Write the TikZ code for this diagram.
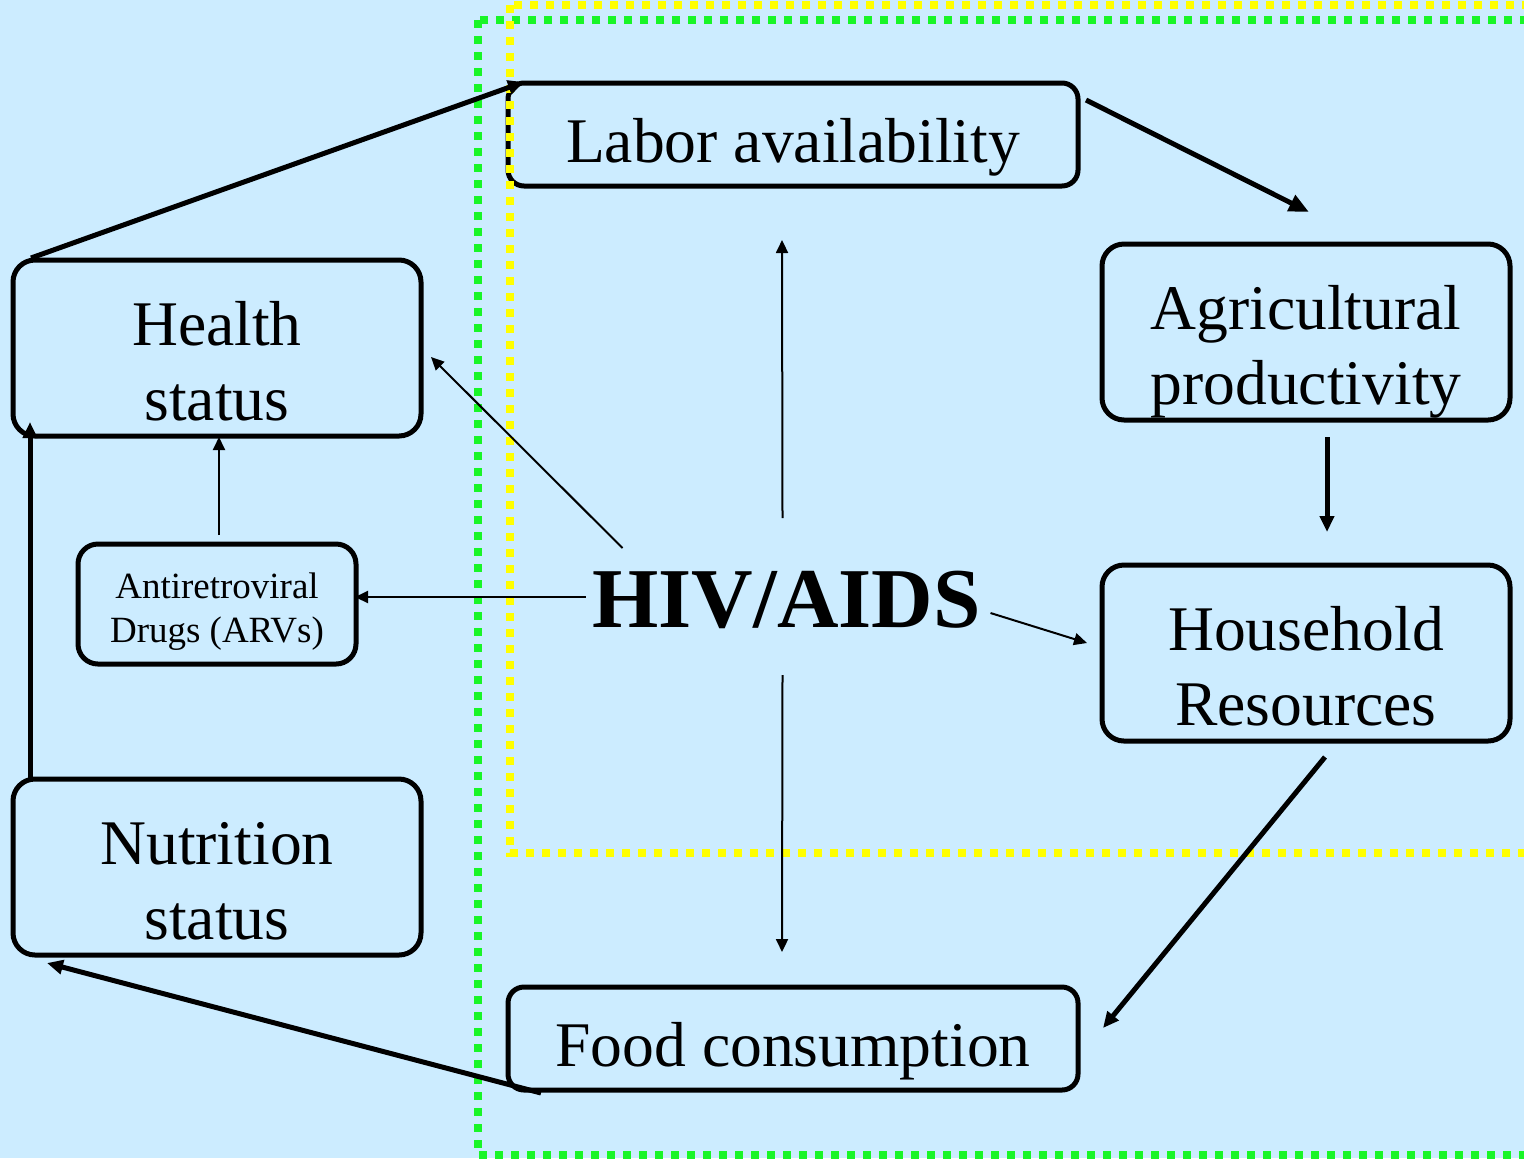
\documentclass[tikz,border=0pt]{standalone}
\usepackage{fontspec}
\setmainfont{Liberation Serif}
\usepackage{tikz}
\usetikzlibrary{positioning, arrows.meta}
\definecolor{slidebg}{RGB}{204,236,255}
\definecolor{dotgreen}{RGB}{25,245,40}
\definecolor{dotyellow}{RGB}{255,255,0}
\newcommand{\twolines}[2]{\rule{0pt}{42.5pt}#1\\#2\rule[-8pt]{0pt}{8pt}}

\begin{document}
\begin{tikzpicture}[x=0.5pt, y=-0.5pt, bigbox/.style={rectangle, draw=black, line width=2.5pt, rounded corners=11pt, minimum width=204pt, minimum height=88pt, inner sep=0pt, outer sep=0pt, align=center, font=\fontsize{31.8}{37.5}\selectfont}, widebox/.style={rectangle, draw=black, line width=2.5pt, rounded corners=8pt, minimum width=285pt, minimum height=51.5pt, inner sep=0pt, outer sep=0pt, text height=33pt, text depth=5.5pt, font=\fontsize{31.8}{37.5}\selectfont}, drugbox/.style={rectangle, draw=black, line width=2.5pt, rounded corners=10pt, minimum width=139pt, minimum height=60pt, inner sep=0pt, outer sep=0pt, align=center, font=\fontsize{18.5}{22}\selectfont}, bigarrow/.style={line width=2.5pt, -{Triangle[length=8pt, width=7pt]}}, thinarrow/.style={line width=1pt, -{Triangle[length=6.5pt, width=6pt]}}, greendots/.style={draw=dotgreen, line width=4pt, dash pattern=on 4pt off 4pt}, yellowdots/.style={draw=dotyellow, line width=4pt, dash pattern=on 4pt off 4pt}]

    % Background
    \fill[slidebg] (0,0) rectangle (1524,1158);
    \useasboundingbox (0,0) rectangle (1524,1158);

    % Nodes
    \node[widebox]  (labor)     at (793,134.5)      {Labor availability};
    \node[bigbox]   (agri)      at (1306,332)       {\twolines{Agricultural}{productivity}};
    \node[bigbox]   (house)     at (1306,653)       {\twolines{Household}{Resources}};
    \node[widebox]  (food)      at (793,1038.5)     {Food consumption};
    \node[bigbox]   (health)    at (217,348)        {\twolines{Health}{status}};
    \node[drugbox]  (arv)       at (217,604)        {\rule{0pt}{20pt}Antiretroviral\\Drugs (ARVs)\rule[-4pt]{0pt}{4pt}};
    \node[bigbox]   (nutri)     at (217,867)        {\twolines{Nutrition}{status}};
    \node[inner sep=0pt, font=\fontsize{42.6}{48}\selectfont\bfseries] (hiv) at (786.5,600) {HIV/AIDS};

    % Dotted frames
    \draw[greendots] (478,20) rectangle (1540,1155);
    \draw[yellowdots] (510,5) rectangle (1540,853);

    % Lines ---------------
    \draw[bigarrow] ([shift={(9pt,1pt)}]health.north west) -- ([shift={(8pt,0.5pt)}]labor.north west);
    \draw[bigarrow, -{Triangle[length=10pt, width=8.5pt]}] ([shift={(4pt,-8.5pt)}]labor.north east) -- ([shift={(1.5pt,16pt)}]agri.north);
    \draw[bigarrow] ([shift={(10.5pt,-8.5pt)}]agri.south) -- ([shift={(10.5pt,16.5pt)}]house.north);
    \draw[bigarrow] ([shift={(9.5pt,-8pt)}]house.south) -- ([shift={(12.5pt,5.25pt)}]food.east);
    \draw[bigarrow] ([shift={(16.5pt,-1.5pt)}]food.south west) -- ([shift={(17pt,-4pt)}]nutri.south west);
    \draw[bigarrow] ([xshift=8.5pt]nutri.north west) -- ([shift={(8.5pt,7pt)}]health.south west);

    % HIV/AIDS
    \draw[thinarrow] ([shift={(-2pt,41pt)}]hiv.center) -- ([shift={(-5.5pt,-27pt)}]labor.south);
    \draw[thinarrow] ([shift={(-2pt,-37.5pt)}]hiv.center) -- ([shift={(-5.5pt,17.5pt)}]food.north);
    \draw[thinarrow] ([shift={(-100.5pt,1.5pt)}]hiv.center) -- ([shift={(-0.5pt,3.5pt)}]arv.east);
    \draw[thinarrow] ([shift={(-82pt,26pt)}]hiv.center) -- ([shift={(5pt,-4.5pt)}]health.east);
    \draw[thinarrow] ([shift={(102pt,-6.5pt)}]hiv.center) -- ([shift={(-7.5pt,5pt)}]house.west);
    \draw[thinarrow] ([shift={(1pt,4.5pt)}]arv.north) -- ([shift={(1pt,-0.5pt)}]health.south);

\end{tikzpicture}
\end{document}
